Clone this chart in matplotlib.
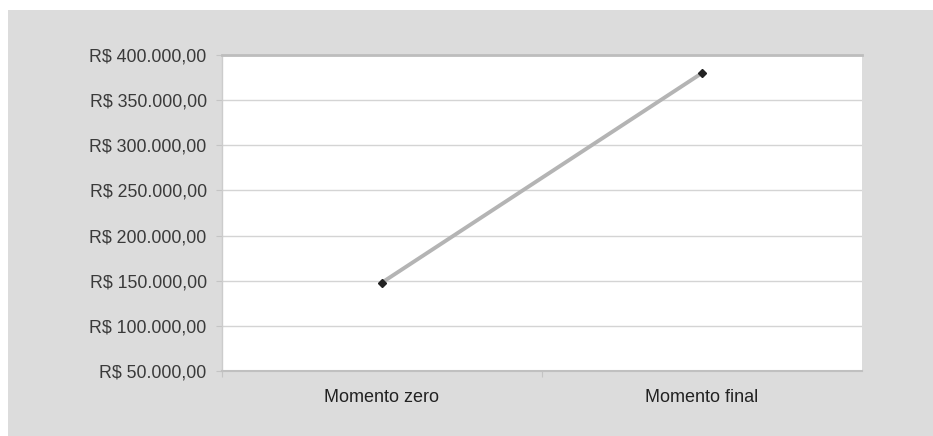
import matplotlib
matplotlib.use("Agg")
import matplotlib.pyplot as plt
from matplotlib.patches import Rectangle
from matplotlib.ticker import FuncFormatter, FixedLocator

categories = ["Momento zero", "Momento final"]
values = [148000, 380000]
y_ticks = [50000, 100000, 150000, 200000, 250000, 300000, 350000, 400000]

plt.rcParams["font.family"] = ["Liberation Sans", "DejaVu Sans"]

BG = "#dcdcdc"

fig = plt.figure(figsize=(9.33, 4.36), dpi=100)
fig.patch.set_facecolor("white")
# Gray panel behind the chart, leaving a thin white margin top/left.
fig.patches.append(Rectangle((8 / 933, 0), 1, 1 - 10 / 436,
                             transform=fig.transFigure, facecolor=BG,
                             edgecolor="none", zorder=-10))

ax = fig.add_axes([222 / 933, 1 - 371 / 436, 640 / 933, 316 / 436])
ax.set_facecolor("white")

x = list(range(len(categories)))
ax.plot(x, values, color="#b4b4b4", linewidth=2.8, zorder=3,
        solid_capstyle="butt")
ax.plot(x, values, linestyle="none", marker="D", markersize=4.5,
        color="#222222", zorder=4)

ax.set_xlim(-0.5, len(categories) - 0.5)
ax.set_ylim(50000, 400000)
ax.set_yticks(y_ticks)


def brl(v, pos):
    s = f"{v:,.2f}".replace(",", "X").replace(".", ",").replace("X", ".")
    return "R$ " + s


ax.yaxis.set_major_formatter(FuncFormatter(brl))
ax.grid(axis="y", color="#d4d4d4", linewidth=1)
ax.set_axisbelow(True)

# Category labels sit between boundary ticks.
ax.xaxis.set_major_locator(FixedLocator([-0.5, 0.5]))
ax.xaxis.set_major_formatter(FuncFormatter(lambda v, p: ""))
ax.xaxis.set_minor_locator(FixedLocator(x))
ax.set_xticklabels(categories, minor=True)
ax.tick_params(axis="x", which="minor", length=0, pad=13,
               labelsize=13, labelcolor="#222222")
ax.tick_params(axis="x", which="major", length=4, color="#c4c4c4",
               direction="out")
ax.tick_params(axis="y", length=4, color="#c4c4c4", labelsize=12.8,
               labelcolor="#3a3a3a", pad=7)

ax.spines["left"].set_color("#cccccc")
ax.spines["left"].set_linewidth(1)
ax.spines["right"].set_visible(False)
ax.spines["bottom"].set_color("#c0c0c0")
ax.spines["bottom"].set_linewidth(1.5)
ax.spines["top"].set_color("#bdbdbd")
ax.spines["top"].set_linewidth(2)

plt.savefig("out.png", dpi=100, facecolor=fig.get_facecolor())
